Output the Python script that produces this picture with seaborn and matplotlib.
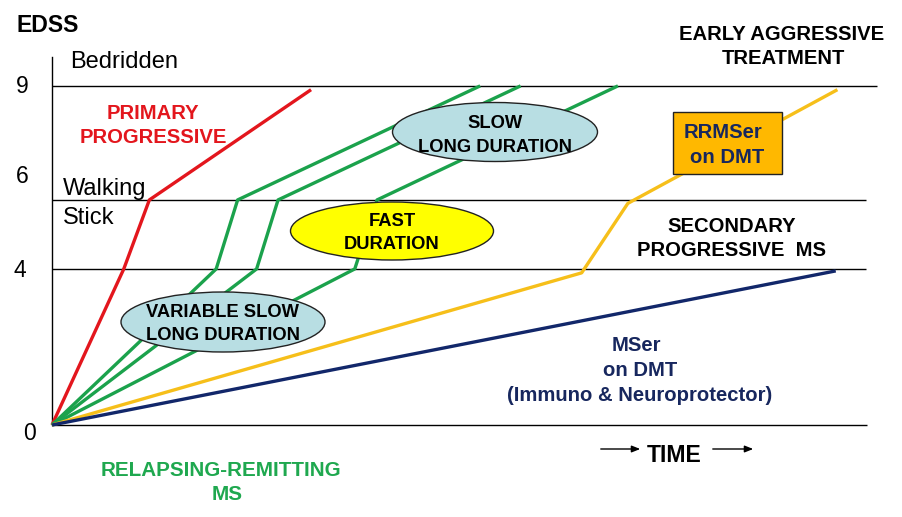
import numpy as np
import pandas as pd
import matplotlib
matplotlib.use("Agg")
import matplotlib.pyplot as plt
import seaborn as sns
from matplotlib.patches import Ellipse, Rectangle
from matplotlib.transforms import Affine2D, ScaledTranslation

# ---------------- data ----------------
edss_levels = [0, 4, 6, 9]
edss_tick_labels = ["0", "4", "6", "9"]

primary_time = [0, 8.7, 11.8, 31.4]
primary_edss = [0, 4, 6, 8.9]

rr_fast_time = [0, 19.9, 22.5, 51.9]
rr_fast_edss = [0, 4, 6, 9]

rr_mid_time = [0, 24.8, 27.4, 56.8]
rr_mid_edss = [0, 4, 6, 9]

rr_slow_time = [0, 36.7, 39.4, 68.6]
rr_slow_edss = [0, 4, 6, 9]

rrmser_time = [0, 64.2, 69.8, 95.2]
rrmser_edss = [0, 3.9, 5.9, 8.9]

mser_time = [0, 95.0]
mser_edss = [0, 3.95]

series_names = ["Primary progressive", "RR fast", "RR mid", "RR slow",
                "RRMSer on DMT", "MSer on DMT"]
series_time = [primary_time, rr_fast_time, rr_mid_time, rr_slow_time,
               rrmser_time, mser_time]
series_edss = [primary_edss, rr_fast_edss, rr_mid_edss, rr_slow_edss,
               rrmser_edss, mser_edss]
series_colors = ["#e3161d", "#1ba24c", "#1ba24c", "#1ba24c", "#f6bf1a", "#12276a"]

rows = []
for name, ts, es in zip(series_names, series_time, series_edss):
    for t, e in zip(ts, es):
        rows.append({"series": name, "time": t, "edss": e})
df = pd.DataFrame(rows)

# ---------------- figure ----------------
W, H = 903, 517
sns.set_style("white")
plt.rcParams["font.family"] = ["Liberation Sans", "DejaVu Sans"]

fig = plt.figure(figsize=(W / 100, H / 100), dpi=100)
ax = fig.add_axes([52 / W, (H - 425) / H, (877 - 52) / W, (425 - 57) / H])

# piecewise EDSS scale (as drawn in the original schematic)
E_KN = np.array([-5.0, 0, 4, 6, 9, 12])
H_KN = np.array([-195.0, 0, 156, 225, 339, 453])


def fwd(v):
    return np.interp(v, E_KN, H_KN)


def inv(v):
    return np.interp(v, H_KN, E_KN)


ax.set_yscale("function", functions=(fwd, inv))

sns.lineplot(data=df, x="time", y="edss", hue="series", hue_order=series_names,
             palette=dict(zip(series_names, series_colors)), sort=False,
             estimator=None, legend=False, lw=2.4, ax=ax, zorder=3)
for ln in ax.lines:
    ln.set_clip_on(False)
    ln.set_solid_capstyle("butt")

ax.set_xlim(0, 100)
ax.set_ylim(0, 9.76)

# level lines
ax.hlines(edss_levels, 0, [98.8, 98.7, 98.7, 100], color="black", lw=1,
          zorder=2, clip_on=False)

for s in ["top", "right", "bottom"]:
    ax.spines[s].set_visible(False)
ax.spines["left"].set_color("black")
ax.spines["left"].set_linewidth(1)
ax.set_xticks([])
ax.set_xlabel("")
ax.set_ylabel("")
ax.set_yticks(edss_levels)
ax.set_yticklabels(edss_tick_labels, fontsize=16.5, color="black")
ax.tick_params(axis="y", length=0, pad=21.6)
offsets = {"0": (8, -5.5), "4": (-2, 0.5), "6": (0, 25.5), "9": (0, 1.5)}
for lab in ax.get_yticklabels():
    lab.set_horizontalalignment("center")
    dx, dy = offsets[lab.get_text()]
    lab.set_transform(lab.get_transform() +
                      ScaledTranslation(dx / 100, dy / 100, fig.dpi_scale_trans))

# pixel transform (x to the right, y downward from top)
pxT = Affine2D().scale(1 / W, -1 / H).translate(0, 1) + fig.transFigure

# ellipses and box
ell_style = dict(transform=pxT, edgecolor="#222222", lw=1, zorder=5)
fig.patches.append(Ellipse((495, 132), 205, 59, facecolor="#b8dee3", **ell_style))
fig.patches.append(Ellipse((392, 231), 203, 58, facecolor="#ffff00", **ell_style))
fig.patches.append(Ellipse((223, 322), 204, 60, facecolor="#b8dee3", **ell_style))
fig.patches.append(Rectangle((673, 112), 109, 62, facecolor="#ffb800",
                             transform=pxT, edgecolor="#222222", lw=1, zorder=5))


def txt(x, y, s, size=14.6, weight="bold", color="black", ha="center"):
    fig.text(x, y, s, transform=pxT, fontsize=size, fontweight=weight,
             color=color, ha=ha, va="baseline", zorder=10)


txt(17, 32, "EDSS", size=16.6, ha="left")
txt(70, 68, "Bedridden", size=17, weight="normal", ha="left")
txt(63, 195, "Walking", size=17, weight="normal", ha="left")
txt(63, 224, "Stick", size=17, weight="normal", ha="left")

red = "#e3161d"
txt(153, 119, "PRIMARY", color=red)
txt(153, 143, "PROGRESSIVE", color=red)

txt(495, 128, "SLOW", size=13.2)
txt(495, 152, "LONG DURATION", size=13.2)
txt(392, 226, "FAST", size=13.2)
txt(392, 249, "DURATION", size=13.2)
txt(223, 317, "VARIABLE SLOW", size=13.2)
txt(223, 340, "LONG DURATION", size=13.2)

txt(782, 40, "EARLY AGGRESSIVE")
txt(783, 64, "TREATMENT")

navy = "#17275e"
txt(723, 138, "RRMSer", color=navy)
txt(727, 163, "on DMT", color=navy)

txt(732, 232, "SECONDARY")
txt(732, 256, "PROGRESSIVE  MS")

txt(636, 351, "MSer", color=navy)
txt(640, 376, "on DMT", color=navy)
txt(640, 401, "(Immuno & Neuroprotector)", color=navy)

txt(674, 462, "TIME", size=16.6)
arrow_kw = dict(arrowstyle="-|>,head_length=0.5,head_width=0.2", color="black", lw=1)
for x0, x1 in [(598, 643), (710, 756)]:
    fig.add_artist(matplotlib.patches.FancyArrowPatch(
        (x0, 449), (x1, 449), transform=pxT, mutation_scale=10, **arrow_kw))

green = "#1fa84f"
txt(221, 476, "RELAPSING-REMITTING", size=14.9, color=green)
txt(227, 500, "MS", size=14.9, color=green)

fig.savefig("out.png", dpi=100)
